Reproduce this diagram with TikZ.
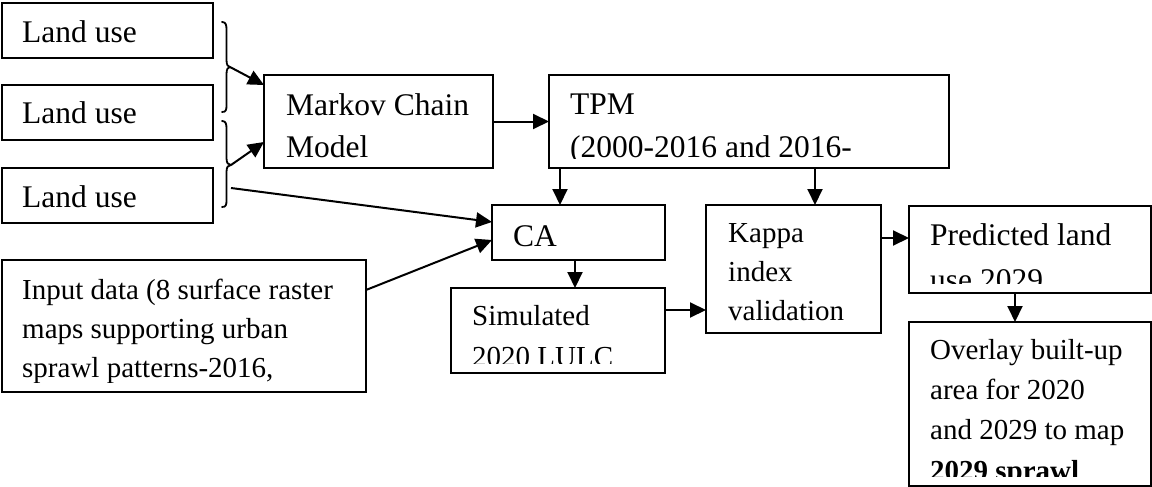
\documentclass[tikz,border=0pt]{standalone}
\usepackage{fontspec}
\setmainfont{Liberation Serif}
\usetikzlibrary{arrows.meta,calc}
\newcommand\boxtxt[5]{%
  \begin{scope}
    \clip (#1.north west) rectangle ([yshift=10pt]#1.south east);
    \node[#4, anchor=base west] (#1-t) at (#2,#3) {#5};
  \end{scope}}
\tikzset{
  box/.style={draw, line width=2.2pt, inner sep=0pt, outer sep=0pt},
  txtA/.style={font=\fontsize{31.5}{42.5}\selectfont, align=left, inner sep=0pt},
  txtB/.style={font=\fontsize{29}{38.7}\selectfont, align=left, inner sep=0pt},
  arr/.style={line width=2pt, -{Triangle[length=16pt,width=15pt]}},
  brace/.style={line width=1.8pt, line cap=round, line join=round}
}
\begin{document}
\begin{tikzpicture}[x=1pt, y=-1pt]
\useasboundingbox (0,0) rectangle (1152,487);
% boxes
\node[box, minimum width=211pt, minimum height=55pt] (land1) at (107.5,30.5) {};
\node[box, minimum width=211pt, minimum height=55pt] (land2) at (107.5,112.5) {};
\node[box, minimum width=211pt, minimum height=55pt] (land3) at (107.5,195.5) {};
\node[box, minimum width=229pt, minimum height=93pt] (markov) at (378.5,121.5) {};
\node[box, minimum width=400pt, minimum height=93pt] (tpm) at (749,121.5) {};
\node[box, minimum width=173pt, minimum height=55pt] (ca) at (578.5,232.5) {};
\node[box, minimum width=364pt, minimum height=132pt] (input) at (184,326) {};
\node[box, minimum width=214pt, minimum height=85pt] (sim) at (558,330.5) {};
\node[box, minimum width=175pt, minimum height=128pt] (kappa) at (793.5,269) {};
\node[box, minimum width=242pt, minimum height=87pt] (pred) at (1030,249.5) {};
\node[box, minimum width=242pt, minimum height=164pt] (overlay) at (1030,404) {};
% texts (anchored at the baseline of the last line, clipped above the bottom margin)
\boxtxt{land1}{22}{43}{txtA}{Land use}
\boxtxt{land2}{22}{124}{txtA}{Land use}
\boxtxt{land3}{22}{207}{txtA}{Land use}
\boxtxt{markov}{286}{157.5}{txtA}{Markov Chain\\Model}
\boxtxt{tpm}{570}{157}{txtA}{TPM\\(2000-2016 and 2016-}
\boxtxt{ca}{513}{246}{txtA}{CA}
\boxtxt{input}{22}{377}{txtB}{Input data (8 surface raster\\maps supporting urban\\sprawl patterns-2016,}
\boxtxt{sim}{472}{366}{txtB, font=\fontsize{29}{41}\selectfont}{Simulated\\2020 LULC}
\boxtxt{kappa}{728}{320}{txtB}{Kappa\\index\\validation}
\boxtxt{pred}{930}{290}{txtA, font=\fontsize{31.5}{45}\selectfont}{Predicted land\\use 2029}
\boxtxt{overlay}{930}{480}{txtB, font=\fontsize{29}{40.3}\selectfont}{Overlay built-up\\area for 2020\\and 2029 to map\\\textbf{2029 sprawl}}
% braces
\coordinate (b1) at (230,67);
\coordinate (b2) at (231,165);
\coordinate (b3) at (231,188);
\draw[brace] (222,22) .. controls (226,22) and (226.5,25) .. (226.5,30) -- (226.5,60)
  .. controls (226.5,65) and (228,67) .. (b1)
  .. controls (228,67) and (226.5,69) .. (226.5,74) -- (226.5,105)
  .. controls (226.5,110) and (226,112) .. (222,112);
\draw[brace] (222,121) .. controls (226,121) and (226.5,124) .. (226.5,129) -- (226.5,158)
  .. controls (226.5,163) and (228,165) .. (b2)
  .. controls (228,165) and (226.5,167) .. (226.5,172) -- (226.5,200)
  .. controls (226.5,205) and (226,207) .. (222,207);
% connectors
\draw[arr] (b1) -- ([yshift=-10pt]markov.north west);
\draw[arr] (b2) -- ([yshift=26pt]markov.south west);
\draw[arr] (b3) -- ([yshift=-17pt]ca.north west);
\draw[arr] ([yshift=-30pt]input.north east) -- ([yshift=-35pt]ca.north west);
\draw[arr] (markov.east) -- (tpm.west |- markov.east);
\draw[arr] ([xshift=11pt]tpm.south west) -- ([xshift=11pt]tpm.south west |- ca.north);
\draw[arr] ([xshift=266pt]tpm.south west) -- ([xshift=266pt]tpm.south west |- kappa.north);
\draw[arr] ([xshift=83pt]ca.south west) -- ([xshift=83pt]ca.south west |- sim.north);
\draw[arr] ([yshift=-22pt]sim.north east) -- ([yshift=-22pt]sim.north east -| kappa.west);
\draw[arr] ([yshift=-33pt]kappa.north east) -- ([yshift=-33pt]kappa.north east -| pred.west);
\draw[arr] ([xshift=106pt]pred.south west) -- ([xshift=106pt]pred.south west |- overlay.north);
\end{tikzpicture}
\end{document}
